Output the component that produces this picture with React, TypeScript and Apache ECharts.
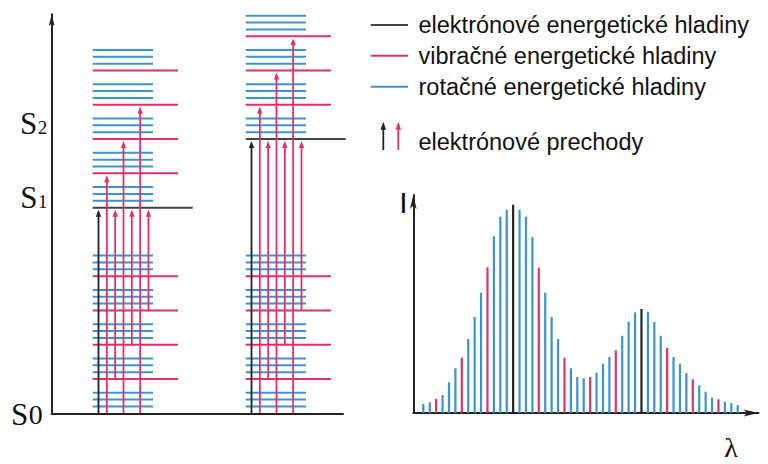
import React, { useEffect, useRef } from 'react';
import * as echarts from 'echarts';

// ---------------- data ----------------
const STATE_NAMES = ['S0', 'S1', 'S2'];
const STATE_ENERGY = [0, 6, 8]; // in vibrational quanta
const ROT_OFFSETS = [0.2, 0.4, 0.6];
const GROUND_VIB_LEVELS = [1, 2, 3, 4];
const GROUND_ROT_BASES = [0, 1, 2, 3, 4];
const S1_VIB_LEVELS = [1, 2, 3, 4];
const S1_ROT_BASES = [0, 1, 2, 3, 4];
const S2_VIB_LEVELS = [1, 2, 3];
const S2_ROT_BASES = [0, 1, 2, 3];
// [ground vibrational level, excited vibrational level]
const S1_TRANSITIONS = [[0, 0], [0, 1], [1, 0], [0, 2], [2, 0], [0, 3], [3, 0]];
const S2_TRANSITIONS = [[0, 0], [0, 1], [1, 0], [0, 2], [2, 0], [0, 3], [3, 0]];

const SPECTRUM_INTENSITY = [
  9.3, 10.7, 14, 18, 30.7, 44.7, 55.3, 74, 96, 120.3, 145.7, 176.7, 196.3, 203.3, 208.3,
  203.3, 196.3, 176, 145.3, 120.3, 96, 74, 55.3, 44.7, 36, 34.7, 36, 40.3, 49.3, 56,
  62.7, 77.3, 91, 100.7, 104, 101.3, 91, 77.3, 65, 56, 49.3, 40, 33.7, 27.7, 21.3,
  15.3, 13.7, 11.3, 10, 8,
];
// e = electronic, v = vibrational, r = rotational
const SPECTRUM_TYPE = [
  'r', 'r', 'v', 'r', 'r', 'r', 'v', 'r', 'r', 'r', 'v', 'r', 'r', 'r', 'e',
  'r', 'r', 'r', 'v', 'r', 'r', 'r', 'v', 'r', 'r', 'r', 'v', 'r', 'r', 'r', 'v', 'r', 'r', 'r', 'e',
  'r', 'r', 'r', 'v', 'r', 'r', 'r', 'v', 'r', 'r', 'r', 'v', 'r', 'r', 'r',
];

const LEGEND_LABELS = [
  'elektrónové energetické hladiny',
  'vibračné energetické hladiny',
  'rotačné energetické hladiny',
];
const TRANSITION_LABEL = 'elektrónové prechody';
const INTENSITY_LABEL = 'I';
const WAVELENGTH_LABEL = 'λ';

// ---------------- style / layout ----------------
const PINK = '#e2306a';
const BLUE = '#3b94cf';
const DARK = '#222222';
const COL_START = [41, 194];
const ROT_LEN = 60.3;
const VIB_LEN = 85.3;
const ELEC_LEN = 100;
const ARROW_X0 = 5.8;
const ARROW_DX = 8.33;

function buildLevels() {
  const rot: number[][] = [];
  const vib: number[][] = [];
  const elec: number[][] = [];
  const trans: any[] = [];
  const exc = [
    { vib: S1_VIB_LEVELS, rot: S1_ROT_BASES, tr: S1_TRANSITIONS, e: STATE_ENERGY[1] },
    { vib: S2_VIB_LEVELS, rot: S2_ROT_BASES, tr: S2_TRANSITIONS, e: STATE_ENERGY[2] },
  ];
  exc.forEach((ex, c) => {
    const s = COL_START[c];
    GROUND_ROT_BASES.forEach((b) => ROT_OFFSETS.forEach((o) => rot.push([s, s + ROT_LEN, STATE_ENERGY[0] + b + o])));
    GROUND_VIB_LEVELS.forEach((v) => vib.push([s, s + VIB_LEN, STATE_ENERGY[0] + v]));
    ex.rot.forEach((b) => ROT_OFFSETS.forEach((o) => rot.push([s, s + ROT_LEN, ex.e + b + o])));
    ex.vib.forEach((v) => vib.push([s, s + VIB_LEN, ex.e + v]));
    elec.push([s, s + ELEC_LEN, ex.e]);
    ex.tr.forEach(([f, t], k) => {
      trans.push({
        value: [s + ARROW_X0 + k * ARROW_DX, STATE_ENERGY[0] + f, ex.e + t],
        kind: f === 0 && t === 0 ? 'e' : 'v',
      });
    });
  });
  return { rot, vib, elec, trans };
}

function levelSeries(name: string, data: number[][], color: string) {
  return {
    type: 'custom',
    name,
    coordinateSystem: 'cartesian2d',
    xAxisIndex: 0,
    yAxisIndex: 0,
    encode: { x: [0, 1], y: 2 },
    silent: true,
    clip: false,
    data,
    renderItem: (_p: any, api: any) => {
      const a = api.coord([api.value(0), api.value(2)]);
      const b = api.coord([api.value(1), api.value(2)]);
      return {
        type: 'line',
        shape: { x1: a[0], y1: a[1], x2: b[0], y2: b[1] },
        style: { stroke: color, lineWidth: 2 },
      };
    },
  };
}

function arrowGraphic(x: number, yBottom: number, yTip: number, color: string, w = 2.8, h = 7) {
  return [
    { type: 'line', shape: { x1: x, y1: yBottom, x2: x, y2: yTip + h - 1 }, style: { stroke: color, lineWidth: 1.8 } },
    { type: 'polygon', shape: { points: [[x, yTip], [x - w, yTip + h], [x + w, yTip + h]] }, style: { fill: color } },
  ];
}

function textEl(text: string, x: number, y: number, size: number, family: string, align = 'left') {
  return {
    type: 'text',
    x,
    y,
    z: 100,
    style: {
      text,
      fill: '#111',
      fontSize: size,
      fontFamily: family,
      align,
      verticalAlign: 'middle',
      textAlign: align,
      textVerticalAlign: 'middle',
    },
  };
}

function buildOption() {
  const { rot, vib, elec, trans } = buildLevels();
  const axisLineStyle = { color: DARK, width: 2 };
  const hidden = { axisTick: { show: false }, axisLabel: { show: false }, splitLine: { show: false } };

  const SANS = '"Liberation Sans", Arial, sans-serif';
  const SERIF = '"Liberation Serif", "Times New Roman", serif';

  const labelPos = [
    { sx: 11, sy: 414.2, bx: 28.8, by: 414.9, bs: 28 },
    { sx: 20.3, sy: 197.5, bx: 38, by: 201.9, bs: 19 },
    { sx: 20, sy: 123.2, bx: 37.7, by: 127.6, bs: 19 },
  ];
  const stateLabels: any[] = [];
  STATE_NAMES.forEach((n, i) => {
    const p = labelPos[i];
    stateLabels.push(textEl(n.charAt(0), p.sx, p.sy, 31, SERIF));
    stateLabels.push(textEl(n.slice(1), p.bx, p.by, p.bs, SERIF));
  });

  const legendColors = ['#444', PINK, BLUE];
  const legendY = [25, 55.8, 86.7];
  const legend: any[] = [];
  LEGEND_LABELS.forEach((l, i) => {
    legend.push({
      type: 'line',
      z: 100,
      shape: { x1: 370.7, y1: legendY[i], x2: 408, y2: legendY[i] },
      style: { stroke: legendColors[i], lineWidth: 2 },
    });
    legend.push(textEl(l, 418.5, legendY[i], 23.5, SANS));
  });
  legend.push(...arrowGraphic(383.3, 150, 121.7, DARK, 2.8, 8).map((e) => ({ ...e, z: 100 })));
  legend.push(...arrowGraphic(398.3, 150, 121.7, PINK, 2.8, 8).map((e) => ({ ...e, z: 100 })));
  legend.push(textEl(TRANSITION_LABEL, 418.5, 142, 23.5, SANS));

  return {
    animation: false,
    backgroundColor: '#ffffff',
    grid: [
      { left: 51.7, top: 14.3, width: 291.3, height: 399, outerBoundsMode: 'none' },
      { left: 413.3, top: 195, width: 345.2, height: 218, outerBoundsMode: 'none' },
    ],
    xAxis: [
      {
        type: 'value', gridIndex: 0, min: 0, max: 291.3,
        axisLine: { show: true, onZero: false, lineStyle: axisLineStyle }, ...hidden,
      },
      {
        type: 'value', gridIndex: 1, min: -1.56, max: 52.24,
        axisLine: { show: true, onZero: false, symbol: ['none', 'arrow'], symbolSize: [5.25, 15], lineStyle: axisLineStyle },
        ...hidden,
      },
    ],
    yAxis: [
      {
        type: 'value', gridIndex: 0, min: 0, max: 11.64,
        axisLine: { show: true, onZero: false, symbol: ['none', 'arrow'], symbolSize: [4.5, 12], lineStyle: axisLineStyle },
        ...hidden,
      },
      {
        type: 'value', gridIndex: 1, min: 0, max: 218,
        axisLine: { show: true, onZero: false, symbol: ['none', 'arrow'], symbolSize: [5, 14], lineStyle: axisLineStyle },
        ...hidden,
      },
    ],
    series: [
      levelSeries(LEGEND_LABELS[2], rot, BLUE),
      levelSeries(LEGEND_LABELS[1], vib, PINK),
      levelSeries(LEGEND_LABELS[0], elec, '#444'),
      {
        type: 'custom',
        name: TRANSITION_LABEL,
        coordinateSystem: 'cartesian2d',
        xAxisIndex: 0,
        yAxisIndex: 0,
        encode: { x: 0, y: [1, 2] },
        silent: true,
        clip: false,
        z: 3,
        data: trans,
        renderItem: (p: any, api: any) => {
          const kind = trans[p.dataIndex].kind;
          const color = kind === 'e' ? DARK : PINK;
          const a = api.coord([api.value(0), api.value(1)]);
          const b = api.coord([api.value(0), api.value(2)]);
          return { type: 'group', children: arrowGraphic(a[0], a[1], b[1] + 2, color, 2.7, 7) };
        },
      },
      {
        type: 'bar',
        name: 'spektrum',
        xAxisIndex: 1,
        yAxisIndex: 1,
        barWidth: 2.2,
        silent: true,
        data: SPECTRUM_INTENSITY.map((v, i) => ({
          value: [i, v],
          itemStyle: { color: SPECTRUM_TYPE[i] === 'e' ? DARK : SPECTRUM_TYPE[i] === 'v' ? PINK : BLUE },
        })),
      },
    ],
    graphic: [
      ...stateLabels,
      ...legend,
      textEl(INTENSITY_LABEL, 403.4, 202.9, 30, SANS, 'center'),
      textEl(WAVELENGTH_LABEL, 731, 447.5, 28, SERIF, 'center'),
    ],
  };
}

export default function App() {
  const ref = useRef<HTMLDivElement>(null);
  useEffect(() => {
    const chart = echarts.init(ref.current!, null, { renderer: 'svg' });
    chart.setOption(buildOption() as any);
    return () => chart.dispose();
  }, []);
  return (
    <div
      ref={ref}
      style={{ position: 'fixed', left: 0, top: 0, width: 768, height: 464, background: '#fff' }}
    />
  );
}
